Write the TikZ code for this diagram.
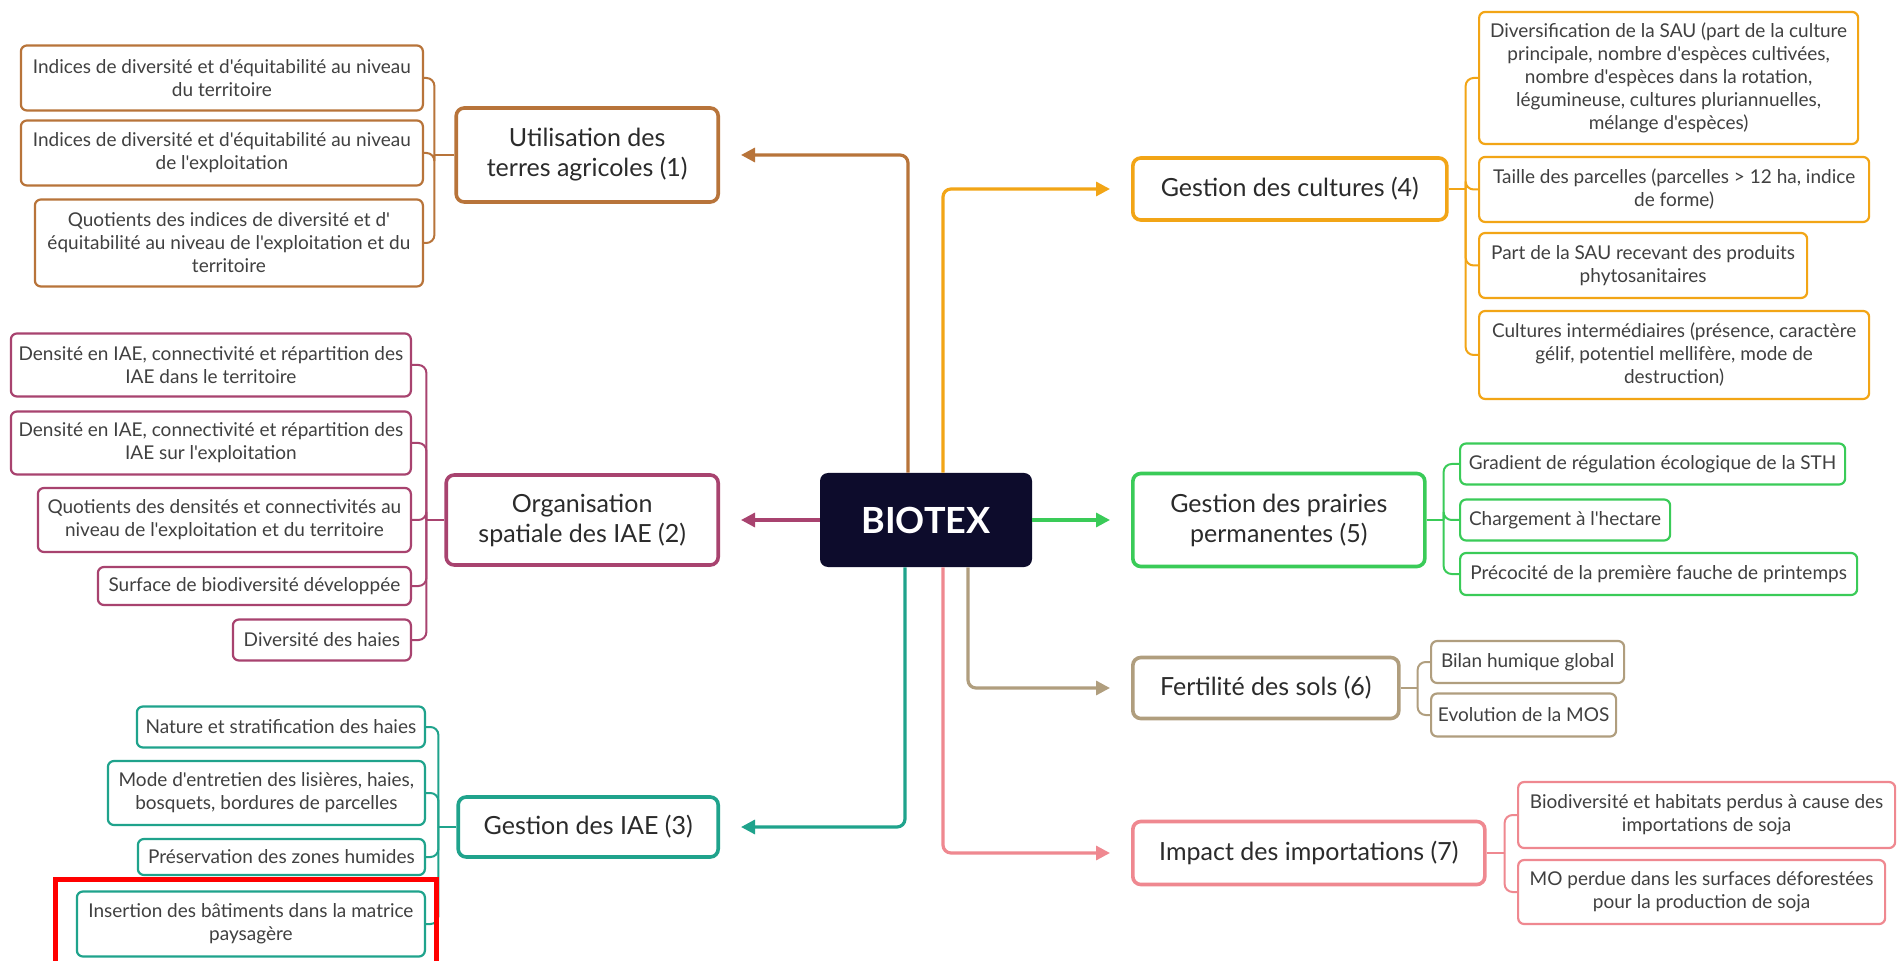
\documentclass[tikz,border=0pt]{standalone}
\usepackage{fontspec}
\setmainfont{Lato}
\newfontfamily\leaffont{Lato}
\usetikzlibrary{arrows.meta, positioning, calc}
\definecolor{landbrown}{HTML}{B8743A}
\definecolor{iaeplum}{HTML}{A8436F}
\definecolor{iaeteal}{HTML}{1FA38C}
\definecolor{cropamber}{HTML}{F2A516}
\definecolor{grassgreen}{HTML}{3ACB58}
\definecolor{soiltan}{HTML}{B09E7E}
\definecolor{importpink}{HTML}{EF8890}
\definecolor{hubnavy}{HTML}{0D0C2C}
\definecolor{inktext}{HTML}{2B2B2B}

\begin{document}
\begin{tikzpicture}[x=0.5pt, y=-0.5pt,
  hub/.style={fill=hubnavy, text=white, rounded corners=4pt, minimum width=106pt,
    minimum height=47pt, font=\fontsize{18}{20}\selectfont\bfseries},
  topic/.style={draw=#1, fill=white, line width=1.8pt, rounded corners=4pt,
    align=center, text=inktext, font=\fontsize{12.5}{15}\selectfont, inner sep=2pt},
  leaf/.style={draw=#1, fill=white, line width=1.1pt, rounded corners=3pt,
    align=center, text=inktext!90, font=\leaffont\fontsize{9.5}{11.5}\selectfont, inner sep=2pt},
  stem/.style={draw=#1, line width=1.6pt, rounded corners=4pt,
    -{Triangle[length=7pt,width=7pt]}, shorten >=10.5pt},
  twig/.style={draw=#1, line width=1pt, rounded corners=4pt}]
  \path[fill=white, use as bounding box] (0,0) rectangle (1898,961);

  \node[hub] (bio) at (926,520) {BIOTEX};

  % themes
  \foreach \nm/\col/\anc/\xx/\yy/\ww/\hh/\txt in
    {land/landbrown/east/720/155/131/47/{Utilisation des\\terres agricoles (1)},
     space/iaeplum/east/720/520/136/45/{Organisation\\spatiale des IAE (2)},
     iae/iaeteal/east/720/827/130/30/{Gestion des IAE (3)},
     crop/cropamber/west/1131/189/157/31/{Gestion des cultures (4)},
     grass/grassgreen/west/1131/520/146/46.5/{Gestion des prairies\\permanentes (5)},
     soil/soiltan/west/1131/688/133/30.5/{Fertilité des sols (6)},
     soja/importpink/west/1131/853/176/31.5/{Impact des importations (7)}}{%
    \node[topic=\col, anchor=\anc, minimum width=\ww pt, minimum height=\hh pt]
      (\nm) at (\xx,\yy) {\txt};}

  \draw[stem=landbrown] ([xshift=-9pt]bio.north) |- (land.east);
  \draw[stem=iaeplum] (bio.west) -- (space.east);
  \draw[stem=iaeteal] ([xshift=-10.5pt]bio.south) |- (iae.east);
  \draw[stem=cropamber] ([xshift=8.5pt]bio.north) |- (crop.west);
  \draw[stem=grassgreen] (bio.east) -- (grass.west);
  \draw[stem=soiltan] ([xshift=21pt]bio.south) |- (soil.west);
  \draw[stem=importpink] ([xshift=8.5pt]bio.south) |- (soja.west);

  % left indicators
  \foreach \nm/\yy/\ww/\hh/\txt in
    {land1/78/201/32.5/{Indices de diversité et d'équitabilité au niveau\\du territoire},
     land2/153/201/32.5/{Indices de diversité et d'équitabilité au niveau\\de l'exploitation},
     land3/243/194/43.5/{Quotients des indices de diversité et d'\\équitabilité au niveau de l'exploitation et du\\territoire}}{%
    \node[leaf=landbrown, anchor=east, minimum width=\ww pt, minimum height=\hh pt]
      (\nm) at (424,\yy) {\txt};}
  \foreach \nm/\yy/\ww/\hh/\txt in
    {space1/365/200/31.5/{Densité en IAE, connectivité et répartition des\\IAE dans le territoire},
     space2/443/200/31.5/{Densité en IAE, connectivité et répartition des\\IAE sur l'exploitation},
     space3/520/186.5/32/{Quotients des densités et connectivités au\\niveau de l'exploitation et du territoire},
     space4/586/156.5/19/{Surface de biodiversité développée},
     space5/640/89/20.5/{Diversité des haies}}{%
    \node[leaf=iaeplum, anchor=east, minimum width=\ww pt, minimum height=\hh pt]
      (\nm) at (412,\yy) {\txt};}
  \foreach \nm/\yy/\ww/\hh/\txt in
    {iae1/727/144/20.5/{Nature et stratification des haies},
     iae2/793/158.5/32/{Mode d'entretien des lisières, haies,\\bosquets, bordures de parcelles},
     iae3/857/143.5/18/{Préservation des zones humides},
     iae4/924/174/32.5/{Insertion des bâtiments dans la matrice\\paysagère}}{%
    \node[leaf=iaeteal, anchor=east, minimum width=\ww pt, minimum height=\hh pt]
      (\nm) at (426,\yy) {\txt};}

  % right indicators
  \foreach \nm/\yy/\ww/\hh/\txt in
    {crop1/78/189.5/66/{Diversification de la SAU (part de la culture\\principale, nombre d'espèces cultivées,\\nombre d'espèces dans la rotation,\\légumineuse, cultures pluriannuelles,\\mélange d'espèces)},
     crop2/189.5/195/32.5/{Taille des parcelles (parcelles > 12 ha, indice\\de forme)},
     crop3/265.5/164/32.5/{Part de la SAU recevant des produits\\phytosanitaires},
     crop4/355/195/44/{Cultures intermédiaires (présence, caractère\\gélif, potentiel mellifère, mode de\\destruction)}}{%
    \node[leaf=cropamber, anchor=west, minimum width=\ww pt, minimum height=\hh pt]
      (\nm) at (1478,\yy) {\txt};}
  \foreach \nm/\yy/\ww/\hh/\txt in
    {grass1/464/192.5/20.5/{Gradient de régulation écologique de la STH},
     grass2/520/105/20.5/{Chargement à l'hectare},
     grass3/574/198.5/21/{Précocité de la première fauche de printemps}}{%
    \node[leaf=grassgreen, anchor=west, minimum width=\ww pt, minimum height=\hh pt]
      (\nm) at (1459,\yy) {\txt};}
  \foreach \nm/\yy/\ww/\hh/\txt in
    {soil1/662/96.5/21/{Bilan humique global},
     soil2/715/92.5/21.5/{Evolution de la MOS}}{%
    \node[leaf=soiltan, anchor=west, minimum width=\ww pt, minimum height=\hh pt]
      (\nm) at (1430,\yy) {\txt};}
  \foreach \nm/\yy/\ww/\hh/\txt in
    {soja1/815/188.5/33/{Biodiversité et habitats perdus à cause des\\importations de soja},
     soja2/892/183.5/32/{MO perdue dans les surfaces déforestées\\pour la production de soja}}{%
    \node[leaf=importpink, anchor=west, minimum width=\ww pt, minimum height=\hh pt]
      (\nm) at (1517,\yy) {\txt};}

  % brackets
  \draw[twig=landbrown] (land.west) -- ++(-20,0) coordinate (jland);
  \foreach \nm in {land1,land2,land3}
    \draw[twig=landbrown] (jland) |- (\nm.east);
  \draw[twig=iaeplum] (space.west) -- ++(-18,0) coordinate (jspace);
  \foreach \nm in {space1,space2,space3,space4,space5}
    \draw[twig=iaeplum] (jspace) |- (\nm.east);
  \draw[twig=iaeteal] (iae.west) -- ++(-18,0) coordinate (jiae);
  \foreach \nm in {iae1,iae2,iae3,iae4}
    \draw[twig=iaeteal] (jiae) |- (\nm.east);
  \draw[twig=cropamber] (crop.east) -- ++(17,0) coordinate (jcrop);
  \foreach \nm in {crop1,crop2,crop3,crop4}
    \draw[twig=cropamber] (jcrop) |- (\nm.west);
  \draw[twig=grassgreen] (grass.east) -- ++(17,0) coordinate (jgrass);
  \foreach \nm in {grass1,grass2,grass3}
    \draw[twig=grassgreen] (jgrass) |- (\nm.west);
  \draw[twig=soiltan] (soil.east) -- ++(17,0) coordinate (jsoil);
  \foreach \nm in {soil1,soil2}
    \draw[twig=soiltan] (jsoil) |- (\nm.west);
  \draw[twig=importpink] (soja.east) -- ++(18,0) coordinate (jsoja);
  \foreach \nm in {soja1,soja2}
    \draw[twig=importpink] (jsoja) |- (\nm.west);

  \draw[red, line width=2.5pt] (55,879) rectangle (436,965);
\end{tikzpicture}
\end{document}
